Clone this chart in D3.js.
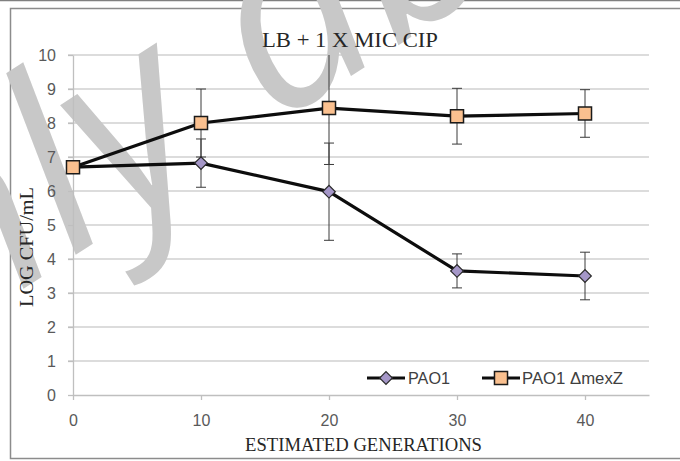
<!DOCTYPE html>
<html>
<head>
<meta charset="utf-8">
<script src="https://cdn.jsdelivr.net/npm/d3@7"></script>
<style>
  html, body { margin: 0; padding: 0; background: #fff; }
  svg { display: block; }
</style>
</head>
<body>
<div id="chart"></div>
<script>
// Chart data
const generations = [0, 10, 20, 30, 40];
const xTicks = [0, 10, 20, 30, 40];
const yTicks = [0, 1, 2, 3, 4, 5, 6, 7, 8, 9, 10];
const pao1 = [6.7, 6.82, 5.98, 3.65, 3.5];
const pao1Err = [0, 0.71, 1.43, 0.5, 0.7];
const mexZ = [6.7, 8.0, 8.44, 8.2, 8.28];
const mexZErr = [0, 1.0, 1.66, 0.82, 0.7];
const seriesNames = ["PAO1", "PAO1 \u0394mexZ"];
const titleText = "LB + 1 X MIC CIP";
const xTitle = "ESTIMATED  GENERATIONS";
const yTitle = "LOG CFU/mL";
const watermarkText = "Only abstract";

const width = 680, height = 461;
const plotLeft = 73, plotRight = 649, plotTop = 55, plotBottom = 395;

const svg = d3.select("#chart").append("svg")
    .attr("width", width)
    .attr("height", height);

const x = d3.scaleLinear().domain([0, 45]).range([plotLeft, plotRight]);
const y = d3.scaleLinear().domain([0, 10]).range([plotBottom, plotTop]);

// outer frame
svg.append("line")
    .attr("x1", 0).attr("x2", width).attr("y1", 0.5).attr("y2", 0.5)
    .attr("stroke", "#808080").attr("stroke-width", 1.5);
svg.append("rect")
    .attr("x", 10.5).attr("y", 8.5)
    .attr("width", 720).attr("height", 450)
    .attr("fill", "none")
    .attr("stroke", "#8c8c8c")
    .attr("stroke-width", 1.5);

// gridlines
svg.append("g").selectAll("line")
    .data(yTicks.filter(d => d > 0))
    .enter().append("line")
    .attr("x1", plotLeft - 5).attr("x2", plotRight)
    .attr("y1", d => y(d)).attr("y2", d => y(d))
    .attr("stroke", "#d0d0d0")
    .attr("stroke-width", 1.3);

// watermark sitting behind the data, anchored on its "a"
const wmG = svg.append("g").attr("transform", "translate(274,126) rotate(-33)");
const wm = wmG.append("text")
    .attr("x", 0).attr("y", 0)
    .attr("font-family", "'Open Sans', 'DejaVu Sans', sans-serif")
    .attr("font-style", "italic")
    .attr("font-size", 250)
    .attr("fill", "#c8c8c8")
    .text(watermarkText);
const aPos = wm.node().getStartPositionOfChar(5).x;
wm.attr("x", -aPos);

// axes
const yAxis = svg.append("g")
    .attr("transform", `translate(${plotLeft},0)`)
    .call(d3.axisLeft(y).tickValues(yTicks).tickSize(5).tickSizeOuter(0).tickPadding(12).tickFormat(d3.format("d")));
const xAxis = svg.append("g")
    .attr("transform", `translate(0,${plotBottom})`)
    .call(d3.axisBottom(x).tickValues(xTicks).tickSize(5).tickSizeOuter(0).tickPadding(15).tickFormat(d3.format("d")));

[yAxis, xAxis].forEach(a => {
    a.select(".domain").attr("stroke", "#bfbfbf").attr("stroke-width", 1.3);
    a.selectAll(".tick line").attr("stroke", "#bfbfbf").attr("stroke-width", 1.3);
    a.selectAll(".tick text")
        .attr("font-family", "'Liberation Sans', Arial, sans-serif")
        .attr("font-size", 16)
        .attr("fill", "#595959");
});

// error bars, clipped to the plot area
svg.append("clipPath").attr("id", "plotClip")
    .append("rect").attr("x", plotLeft - 10).attr("y", plotTop)
    .attr("width", plotRight - plotLeft + 20).attr("height", plotBottom - plotTop);

const series = [
    { name: seriesNames[0], values: pao1, err: pao1Err, shape: "diamond", fill: "#a597c8" },
    { name: seriesNames[1], values: mexZ, err: mexZErr, shape: "square", fill: "#fac08f" }
];

const errG = svg.append("g").attr("clip-path", "url(#plotClip)");
series.forEach(s => {
    const pts = generations.map((g, i) => ({ g, v: s.values[i], e: s.err[i] })).filter(d => d.e > 0);
    const eg = errG.append("g").attr("stroke", "#3a3a3a").attr("stroke-width", 1);
    eg.selectAll(".stem").data(pts).enter().append("line")
        .attr("x1", d => x(d.g)).attr("x2", d => x(d.g))
        .attr("y1", d => y(d.v - d.e)).attr("y2", d => y(d.v + d.e));
    eg.selectAll(".capHi").data(pts).enter().append("line")
        .attr("x1", d => x(d.g) - 5).attr("x2", d => x(d.g) + 5)
        .attr("y1", d => y(d.v + d.e)).attr("y2", d => y(d.v + d.e));
    eg.selectAll(".capLo").data(pts).enter().append("line")
        .attr("x1", d => x(d.g) - 5).attr("x2", d => x(d.g) + 5)
        .attr("y1", d => y(d.v - d.e)).attr("y2", d => y(d.v - d.e));
});

const line = d3.line().x(d => x(d[0])).y(d => y(d[1]));

function marker(sel, shape, fill) {
    if (shape === "diamond") {
        sel.append("path")
            .attr("d", d3.symbol(d3.symbolSquare, 80)())
            .attr("transform", "rotate(45)")
            .attr("fill", fill).attr("stroke", "#2a2a2a").attr("stroke-width", 1.2);
    } else {
        sel.append("path")
            .attr("d", d3.symbol(d3.symbolSquare, 170)())
            .attr("fill", fill).attr("stroke", "#1a1a1a").attr("stroke-width", 1.5);
    }
}

series.forEach(s => {
    svg.append("path")
        .datum(generations.map((g, i) => [g, s.values[i]]))
        .attr("d", line)
        .attr("fill", "none")
        .attr("stroke", "#0d0d0d")
        .attr("stroke-width", 3.2)
        .attr("stroke-linejoin", "round");
});
series.forEach(s => {
    generations.forEach((g, i) => {
        const m = svg.append("g").attr("transform", `translate(${x(g)},${y(s.values[i])})`);
        marker(m, s.shape, s.fill);
    });
});

// legend
const legendPos = [{ lx: 367, tx: 408, tw: 42 }, { lx: 482, tx: 522, tw: 101 }];
series.forEach((s, i) => {
    const p = legendPos[i];
    const lg = svg.append("g");
    lg.append("line")
        .attr("x1", p.lx).attr("x2", p.lx + 38).attr("y1", 378).attr("y2", 378)
        .attr("stroke", "#0d0d0d").attr("stroke-width", 3.2);
    const m = lg.append("g").attr("transform", `translate(${p.lx + 19},378)`);
    marker(m, s.shape, s.fill);
    lg.append("text")
        .attr("x", p.tx).attr("y", 384)
        .attr("font-family", "'Liberation Sans', Arial, sans-serif")
        .attr("font-size", 16)
        .attr("fill", "#404040")
        .attr("textLength", p.tw)
        .attr("lengthAdjust", "spacingAndGlyphs")
        .text(s.name);
});

// titles
svg.append("text")
    .attr("x", 350).attr("y", 47)
    .attr("text-anchor", "middle")
    .attr("font-family", "'Liberation Serif', 'Times New Roman', serif")
    .attr("font-size", 22)
    .attr("fill", "#262626")
    .attr("textLength", 176)
    .attr("lengthAdjust", "spacingAndGlyphs")
    .text(titleText);

svg.append("text")
    .attr("x", 245).attr("y", 451)
    .attr("font-family", "'Liberation Serif', 'Times New Roman', serif")
    .attr("font-size", 19)
    .attr("fill", "#262626")
    .attr("textLength", 237)
    .attr("lengthAdjust", "spacingAndGlyphs")
    .text(xTitle);

svg.append("text")
    .attr("transform", "translate(33,247) rotate(-90)")
    .attr("text-anchor", "middle")
    .attr("font-family", "'Liberation Serif', 'Times New Roman', serif")
    .attr("font-size", 19)
    .attr("fill", "#262626")
    .attr("textLength", 120)
    .attr("lengthAdjust", "spacingAndGlyphs")
    .text(yTitle);
</script>
</body>
</html>
